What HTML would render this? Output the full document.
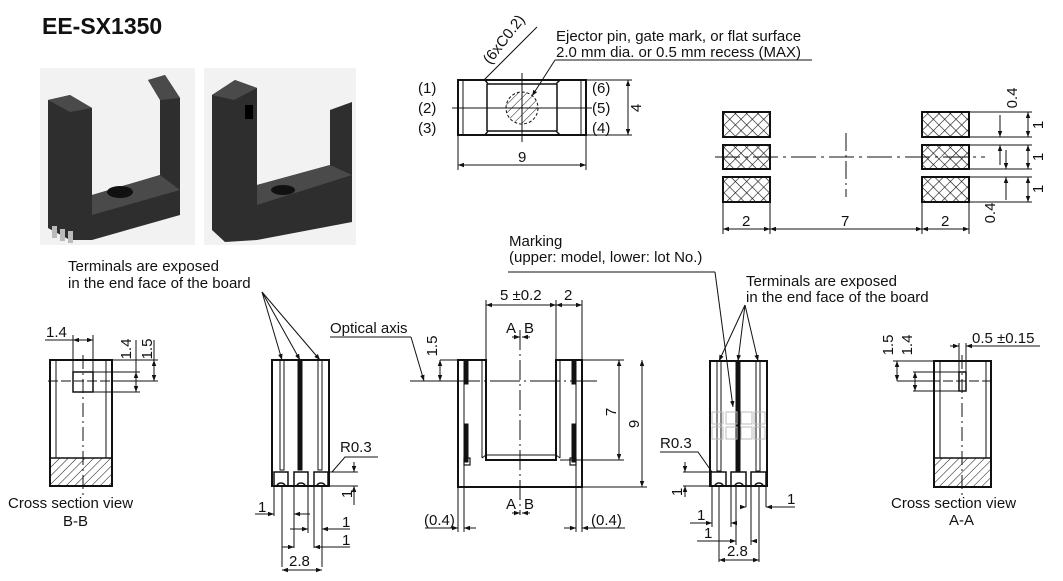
<!DOCTYPE html>
<html><head><meta charset="utf-8"><style>
body{margin:0;background:#fff;}
svg{display:block;font-family:"Liberation Sans",sans-serif;}
text{fill:#111;}
</style></head><body>
<svg width="1063" height="581" viewBox="0 0 1063 581" xmlns="http://www.w3.org/2000/svg">
<defs>
<pattern id="h" width="6" height="6" patternUnits="userSpaceOnUse" patternTransform="rotate(45)"><line x1="0" y1="0" x2="0" y2="6" stroke="#111" stroke-width="1"/></pattern>
<pattern id="x" width="8" height="8" patternUnits="userSpaceOnUse" patternTransform="rotate(45)"><path d="M0 0V8M0 0H8" stroke="#111" stroke-width="1.2"/></pattern>
<marker id="a" viewBox="0 0 8 6" refX="8" refY="3" markerWidth="6" markerHeight="4.5" orient="auto-start-reverse"><path d="M0 0L8 3L0 6z" fill="#111"/></marker>
</defs>
<text x="42" y="34" font-size="23" font-weight="bold">EE-SX1350</text>
<!-- photos -->
<rect x="40" y="68" width="155" height="177" fill="#f2f2f2"/>
<rect x="204" y="68" width="152" height="177" fill="#f2f2f2"/>
<g fill="#2e2e2e">
<path d="M48 100 L70 95 L92 108 L92 195 L160 175 L160 100 L148 80 L165 75 L180 98 L180 215 L92 240 L70 240 L48 228z"/>
<path d="M212 95 L235 80 L257 88 L257 185 L330 165 L330 110 L352 102 L352 222 L257 240 L225 242 L212 230z"/>
</g>
<g fill="#4a4a4a"><path d="M148 80L165 75L180 98L160 100z"/><path d="M48 100L70 95L92 108L70 112z"/><path d="M212 95L235 80L257 88L234 100z"/><path d="M92 195L160 175L180 190L92 215z"/><path d="M257 185L330 165L352 175L257 205z"/></g>
<ellipse cx="120" cy="192" rx="13" ry="6" fill="#111"/><ellipse cx="283" cy="190" rx="12" ry="5" fill="#111"/>
<rect x="245" y="105" width="8" height="14" fill="#000"/>
<g fill="#bbb"><rect x="52" y="226" width="5" height="12"/><rect x="60" y="229" width="5" height="12"/><rect x="68" y="231" width="5" height="12"/></g>

<g stroke="#111" fill="none" stroke-width="1">
<!-- top view -->
<rect x="458" y="80" width="128" height="55" stroke-width="2"/>
<line x1="463" y1="80" x2="463" y2="135"/><line x1="581" y1="80" x2="581" y2="135"/>
<path d="M485 80 L488 84 L556 84 L560 80 M485 135 L488 131 L556 131 L560 135" stroke-width="1.5"/>
<line x1="487" y1="84" x2="487" y2="131" stroke-width="1.5"/><line x1="557" y1="84" x2="557" y2="131" stroke-width="1.5"/>
<circle cx="522" cy="108" r="16" fill="url(#h)" stroke-dasharray="3 2"/>
<line x1="452" y1="108" x2="592" y2="108"/><line x1="522" y1="73" x2="522" y2="142"/>
<line x1="586" y1="80" x2="632" y2="80"/><line x1="586" y1="135" x2="632" y2="135"/>
<line x1="628" y1="80" x2="628" y2="135" marker-start="url(#a)" marker-end="url(#a)"/>
<line x1="458" y1="135" x2="458" y2="170"/><line x1="586" y1="135" x2="586" y2="170"/>
<line x1="458" y1="165" x2="586" y2="165" marker-start="url(#a)" marker-end="url(#a)"/>
<line x1="484" y1="80" x2="537" y2="27"/>
<line x1="555" y1="60" x2="812" y2="60"/><line x1="555" y1="60" x2="532" y2="96" marker-end="url(#a)"/>
<!-- pads -->
<rect x="723" y="112" width="47" height="25" fill="url(#x)" stroke-width="2"/>
<rect x="723" y="145" width="47" height="24" fill="url(#x)" stroke-width="2"/>
<rect x="723" y="177" width="47" height="25" fill="url(#x)" stroke-width="2"/>
<rect x="922" y="112" width="47" height="25" fill="url(#x)" stroke-width="2"/>
<rect x="922" y="145" width="47" height="24" fill="url(#x)" stroke-width="2"/>
<rect x="922" y="177" width="47" height="25" fill="url(#x)" stroke-width="2"/>
<line x1="846" y1="133" x2="846" y2="197" stroke-dasharray="18 4 2 4"/>
<line x1="715" y1="157" x2="985" y2="157" stroke-dasharray="25 5 3 5"/>
<line x1="723" y1="202" x2="723" y2="234"/><line x1="770" y1="202" x2="770" y2="234"/>
<line x1="922" y1="202" x2="922" y2="234"/><line x1="969" y1="202" x2="969" y2="234"/>
<line x1="723" y1="229" x2="770" y2="229" marker-start="url(#a)" marker-end="url(#a)"/>
<line x1="770" y1="229" x2="922" y2="229" marker-start="url(#a)" marker-end="url(#a)"/>
<line x1="922" y1="229" x2="969" y2="229" marker-start="url(#a)" marker-end="url(#a)"/>
<path d="M969 112H1032M969 137H1032M969 145H1032M969 169H1032M969 177H1032M969 202H1032"/>
<line x1="1028" y1="112" x2="1028" y2="137" marker-start="url(#a)" marker-end="url(#a)"/>
<line x1="1028" y1="145" x2="1028" y2="169" marker-start="url(#a)" marker-end="url(#a)"/>
<line x1="1028" y1="177" x2="1028" y2="202" marker-start="url(#a)" marker-end="url(#a)"/>
<line x1="1000" y1="115" x2="1000" y2="137" marker-end="url(#a)"/><line x1="1000" y1="165" x2="1000" y2="145" marker-end="url(#a)"/>
<line x1="1006" y1="150" x2="1006" y2="169" marker-end="url(#a)"/><line x1="1006" y1="200" x2="1006" y2="177" marker-end="url(#a)"/>

<!-- section B-B -->
<rect x="50" y="360" width="62" height="126" stroke-width="2"/>
<line x1="56" y1="360" x2="56" y2="458"/><line x1="106" y1="360" x2="106" y2="458"/>
<rect x="50" y="458" width="62" height="28" fill="url(#h)" stroke-width="1.5"/>
<rect x="73" y="372" width="20" height="20" stroke-width="1.5"/>
<line x1="83" y1="355" x2="83" y2="495" stroke-dasharray="14 4 2 4"/>
<line x1="48" y1="381" x2="118" y2="381" stroke-dasharray="10 3"/>
<line x1="73" y1="335" x2="73" y2="372"/><line x1="93" y1="335" x2="93" y2="372"/>
<line x1="45" y1="340" x2="73" y2="340"/><line x1="73" y1="340" x2="93" y2="340" marker-start="url(#a)" marker-end="url(#a)"/>
<path d="M112 360H158M93 372H140M93 392H140M112 381H158"/>
<line x1="136" y1="372" x2="136" y2="392" marker-start="url(#a)" marker-end="url(#a)"/>
<line x1="154" y1="360" x2="154" y2="381" marker-start="url(#a)" marker-end="url(#a)"/>
<line x1="136" y1="340" x2="136" y2="372"/><line x1="154" y1="340" x2="154" y2="360"/>

<!-- side view left -->
<rect x="272" y="360" width="57" height="126" stroke-width="2"/>
<rect x="280" y="360" width="4" height="110" stroke-width="1"/>
<rect x="298" y="360" width="4" height="110" fill="#111"/>
<rect x="318" y="360" width="4" height="110" stroke-width="1"/>
<rect x="274" y="472" width="14" height="14" stroke-width="1.5"/><rect x="294" y="472" width="14" height="14" stroke-width="1.5"/><rect x="314" y="472" width="14" height="14" stroke-width="1.5"/>
<path d="M277 486a4 3 0 0 1 8 0M297 486a4 3 0 0 1 8 0M317 486a4 3 0 0 1 8 0" stroke-width="1.5"/>
<line x1="262" y1="292" x2="282" y2="360" marker-end="url(#a)"/><line x1="262" y1="292" x2="300" y2="360" marker-end="url(#a)"/><line x1="262" y1="292" x2="320" y2="360" marker-end="url(#a)"/>
<path d="M332 472 L345 457 H378"/>
<path d="M329 472H358M329 486H358"/><line x1="354" y1="462" x2="354" y2="472" marker-end="url(#a)"/><line x1="354" y1="505" x2="354" y2="486" marker-end="url(#a)"/>
<path d="M274 486V516M282 486V567M294 486V548M308 486V533M314 486V548M322 486V567"/>
<line x1="255" y1="514" x2="274" y2="514" marker-end="url(#a)"/><line x1="310" y1="514" x2="294" y2="514" marker-end="url(#a)"/>
<line x1="290" y1="529" x2="308" y2="529" marker-end="url(#a)"/><line x1="350" y1="529" x2="322" y2="529" marker-end="url(#a)"/>
<line x1="282" y1="547" x2="294" y2="547" marker-end="url(#a)"/><line x1="350" y1="547" x2="314" y2="547" marker-end="url(#a)"/>
<line x1="282" y1="570" x2="322" y2="570" marker-start="url(#a)" marker-end="url(#a)"/>

<!-- front view -->
<path d="M458 360 H486 V460 H556 V360 H582 V487 H458 Z" stroke-width="2"/>
<path d="M464 360V487M576 360V487M482 360V458M560 360V458" stroke-width="1"/>
<rect x="464" y="360" width="4" height="24" fill="#111"/><rect x="572" y="360" width="4" height="24" fill="#111"/>
<rect x="464" y="424" width="4" height="38" fill="#111"/><rect x="572" y="424" width="4" height="38" fill="#111"/>
<rect x="464" y="458" width="6" height="7" stroke-width="1.2"/><rect x="570" y="458" width="6" height="7" stroke-width="1.2"/>
<path d="M482 458 L486 455 H556 L560 458" stroke-width="1"/>
<line x1="520" y1="330" x2="520" y2="515" stroke-dasharray="20 4 2 4"/>
<line x1="410" y1="381" x2="597" y2="381" stroke-dasharray="30 4 2 4"/>
<line x1="330" y1="337" x2="411" y2="337"/><line x1="411" y1="337" x2="424" y2="381" marker-end="url(#a)"/>
<path d="M440 360H458M440 381H458"/><line x1="440" y1="360" x2="440" y2="381" marker-start="url(#a)" marker-end="url(#a)"/>
<path d="M486 300V360M556 300V360M582 300V360"/>
<line x1="486" y1="305" x2="556" y2="305" marker-start="url(#a)" marker-end="url(#a)"/>
<line x1="556" y1="305" x2="582" y2="305" marker-start="url(#a)" marker-end="url(#a)"/>
<line x1="512" y1="337" x2="520" y2="337" marker-end="url(#a)"/><line x1="530" y1="337" x2="522" y2="337" marker-end="url(#a)"/>
<line x1="512" y1="513" x2="520" y2="513" marker-end="url(#a)"/><line x1="530" y1="513" x2="522" y2="513" marker-end="url(#a)"/>
<path d="M582 360H624M560 460H624M582 487H647"/>
<line x1="619" y1="360" x2="619" y2="460" marker-start="url(#a)" marker-end="url(#a)"/>
<line x1="642" y1="360" x2="642" y2="487" marker-start="url(#a)" marker-end="url(#a)"/>
<path d="M458 487V532M464 487V532M576 487V532M582 487V532"/>
<line x1="425" y1="528" x2="458" y2="528"/><line x1="445" y1="528" x2="458" y2="528" marker-end="url(#a)"/><line x1="476" y1="528" x2="464" y2="528" marker-end="url(#a)"/>
<line x1="564" y1="528" x2="576" y2="528" marker-end="url(#a)"/><line x1="595" y1="528" x2="582" y2="528" marker-end="url(#a)"/><line x1="582" y1="528" x2="625" y2="528"/>
<line x1="508" y1="272" x2="715" y2="272"/><line x1="715" y1="272" x2="733" y2="407" marker-end="url(#a)"/>

<!-- side view right -->
<rect x="710" y="361" width="57" height="125" stroke-width="2"/>
<rect x="717" y="361" width="4" height="110" stroke-width="1"/>
<rect x="736" y="361" width="4" height="110" fill="#111"/>
<rect x="756" y="361" width="4" height="110" stroke-width="1"/>
<g stroke="#bbb"><rect x="712" y="412" width="11" height="12"/><rect x="726" y="412" width="11" height="12"/><rect x="741" y="412" width="11" height="12"/><rect x="754" y="412" width="11" height="12"/><rect x="712" y="427" width="11" height="12"/><rect x="726" y="427" width="11" height="12"/><rect x="741" y="427" width="11" height="12"/><rect x="754" y="427" width="11" height="12"/></g>
<rect x="711" y="472" width="15" height="14" stroke-width="1.5"/><rect x="731" y="472" width="15" height="14" stroke-width="1.5"/><rect x="751" y="472" width="15" height="14" stroke-width="1.5"/>
<path d="M715 486a4 3 0 0 1 8 0M735 486a4 3 0 0 1 8 0M755 486a4 3 0 0 1 8 0" stroke-width="1.5"/>
<line x1="745" y1="305" x2="719" y2="361" marker-end="url(#a)"/><line x1="745" y1="305" x2="738" y2="361" marker-end="url(#a)"/><line x1="745" y1="305" x2="758" y2="361" marker-end="url(#a)"/>
<path d="M660 452H698L712 472"/>
<path d="M683 472H711M683 486H711"/><line x1="685" y1="462" x2="685" y2="472" marker-end="url(#a)"/><line x1="685" y1="497" x2="685" y2="486" marker-end="url(#a)"/>
<path d="M712 486V527M719 486V562M731 486V527M736 486V545M746 486V507M751 486V545M759 486V562M766 486V507"/>
<line x1="740" y1="507" x2="746" y2="507" marker-end="url(#a)"/><line x1="795" y1="507" x2="766" y2="507" marker-end="url(#a)"/>
<line x1="690" y1="523" x2="712" y2="523" marker-end="url(#a)"/><line x1="737" y1="523" x2="731" y2="523" marker-end="url(#a)"/>
<line x1="697" y1="541" x2="736" y2="541" marker-end="url(#a)"/><line x1="757" y1="541" x2="751" y2="541" marker-end="url(#a)"/>
<line x1="719" y1="560" x2="759" y2="560" marker-start="url(#a)" marker-end="url(#a)"/>

<!-- section A-A -->
<rect x="934" y="361" width="57" height="126" stroke-width="2"/>
<line x1="940" y1="361" x2="940" y2="458"/><line x1="986" y1="361" x2="986" y2="458"/>
<rect x="934" y="458" width="57" height="29" fill="url(#h)" stroke-width="1.5"/>
<rect x="959" y="372" width="7" height="19" stroke-width="1.5"/>
<line x1="962" y1="355" x2="962" y2="495" stroke-dasharray="14 4 2 4"/>
<line x1="930" y1="381" x2="995" y2="381" stroke-dasharray="10 3"/>
<path d="M893 361H934M913 372H959M913 391H959"/>
<line x1="897" y1="361" x2="897" y2="381" marker-start="url(#a)" marker-end="url(#a)"/><line x1="897" y1="381" x2="934" y2="381"/>
<line x1="915" y1="372" x2="915" y2="391" marker-start="url(#a)" marker-end="url(#a)"/>
<path d="M959 343V372M966 343V372"/>
<line x1="950" y1="346" x2="959" y2="346" marker-end="url(#a)"/><line x1="975" y1="346" x2="966" y2="346" marker-end="url(#a)"/><line x1="966" y1="346" x2="1040" y2="346"/>
</g>

<g font-size="15">
<text x="418" y="93">(1)</text><text x="418" y="113">(2)</text><text x="418" y="133">(3)</text>
<text x="592" y="93">(6)</text><text x="592" y="113">(5)</text><text x="592" y="133">(4)</text>
<text x="518" y="162">9</text>
<text transform="translate(641,108) rotate(-90)" text-anchor="middle">4</text>
<text transform="translate(490,65) rotate(-52)">(6xC0.2)</text>
<text x="556" y="41">Ejector pin, gate mark, or flat surface</text>
<text x="556" y="57">2.0 mm dia. or 0.5 mm recess (MAX)</text>
<text x="742" y="226">2</text><text x="841" y="226">7</text><text x="941" y="226">2</text>
<text transform="translate(1043,125) rotate(-90)" text-anchor="middle">1</text>
<text transform="translate(1043,157) rotate(-90)" text-anchor="middle">1</text>
<text transform="translate(1043,189) rotate(-90)" text-anchor="middle">1</text>
<text transform="translate(1017,98) rotate(-90)" text-anchor="middle">0.4</text>
<text transform="translate(995,213) rotate(-90)" text-anchor="middle">0.4</text>
<text x="509" y="246">Marking</text>
<text x="509" y="262">(upper: model,  lower: lot No.)</text>
<text x="68" y="271">Terminals are exposed</text>
<text x="68" y="288">in the end face of the board</text>
<text x="746" y="286">Terminals are exposed</text>
<text x="746" y="302">in the end face of the board</text>
<text x="46" y="337">1.4</text>
<text transform="translate(131,349) rotate(-90)" text-anchor="middle">1.4</text>
<text transform="translate(152,349) rotate(-90)" text-anchor="middle">1.5</text>
<text x="8" y="508">Cross section view</text><text x="63" y="526">B-B</text>
<text x="340" y="452">R0.3</text>
<text transform="translate(352,494) rotate(-90)" text-anchor="middle">1</text>
<text x="258" y="512">1</text><text x="342" y="527">1</text><text x="342" y="545">1</text>
<text x="289" y="566">2.8</text>
<text x="330" y="333">Optical axis</text>
<text transform="translate(437,346) rotate(-90)" text-anchor="middle">1.5</text>
<text x="500" y="300">5 ±0.2</text><text x="564" y="300">2</text>
<text x="506" y="333">A</text><text x="524" y="333">B</text>
<text x="506" y="509">A</text><text x="524" y="509">B</text>
<text transform="translate(616,412) rotate(-90)" text-anchor="middle">7</text>
<text transform="translate(639,424) rotate(-90)" text-anchor="middle">9</text>
<text x="424" y="525">(0.4)</text><text x="591" y="525">(0.4)</text>
<text x="660" y="448">R0.3</text>
<text transform="translate(682,492) rotate(-90)" text-anchor="middle">1</text>
<text x="787" y="504">1</text><text x="697" y="520">1</text><text x="704" y="538">1</text>
<text x="727" y="556">2.8</text>
<text x="972" y="343">0.5 ±0.15</text>
<text transform="translate(893,345) rotate(-90)" text-anchor="middle">1.5</text>
<text transform="translate(912,345) rotate(-90)" text-anchor="middle">1.4</text>
<text x="891" y="508">Cross section view</text><text x="949" y="525">A-A</text>
</g>
</svg>
</body></html>
